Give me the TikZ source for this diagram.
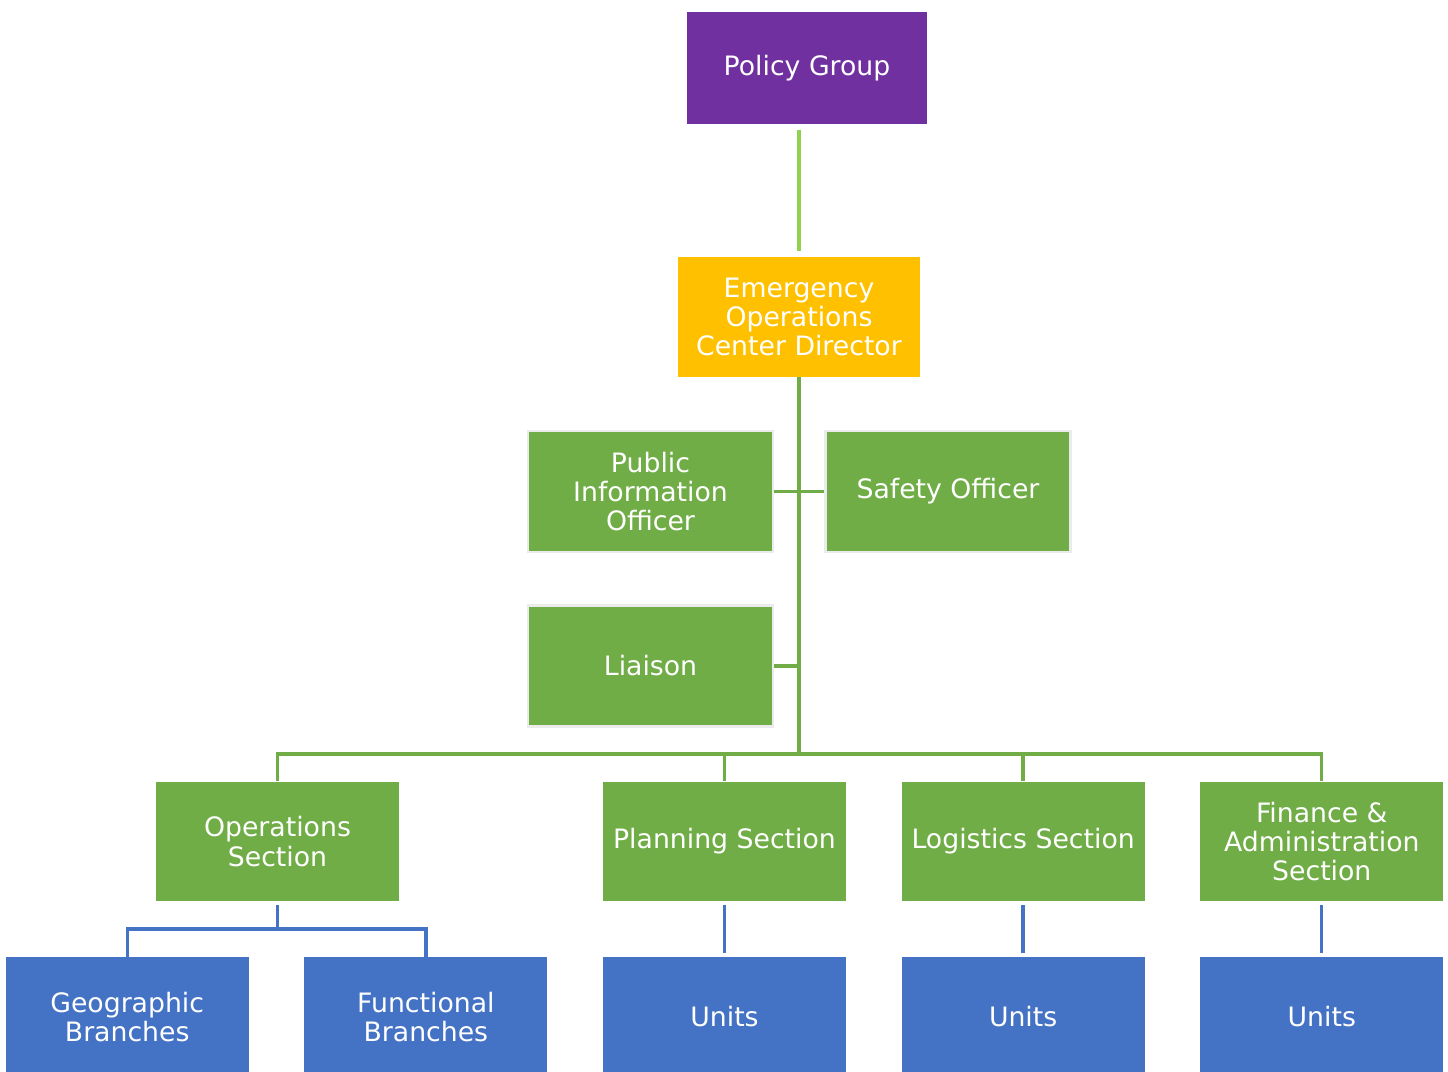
\documentclass[tikz,border=0pt]{standalone}
\usepackage{fontspec}
\setmainfont{DejaVu Sans}
\usetikzlibrary{positioning}

\definecolor{pgpurple}{HTML}{7030A0}
\definecolor{eocgold}{HTML}{FFC000}
\definecolor{secgreen}{HTML}{70AD47}
\definecolor{linkgreen}{HTML}{92D050}
\definecolor{unitblue}{HTML}{4472C4}

\begin{document}
\begin{tikzpicture}[
    x=0.02cm, y=-0.02cm,
    node distance=1.1cm,
    every node/.style={font=\fontsize{15.2}{16.7}\selectfont, text=white, align=center},
    box/.style={minimum width=4.86cm, minimum height=2.4cm, inner sep=1pt},
    greenbox/.style={box, fill=secgreen, draw=black!8, line width=1.2pt},
    bluebox/.style={box, fill=unitblue},
    greenline/.style={draw=secgreen, line width=1.9pt},
    blueline/.style={draw=unitblue, line width=1.9pt}
]
    \clip (0,0) rectangle (1448,1072);
    \fill[white] (0,0) rectangle (1448,1072);

    % top of the chart
    \node (pg) [box, fill=pgpurple, minimum width=4.8cm, minimum height=2.24cm] at (807,68) {Policy Group};
    \node (eoc) [box, fill=eocgold] at (799,317) {Emergency\\ Operations\\ Center Director};

    % command staff
    \node (pio) [greenbox, minimum width=4.9cm, minimum height=2.42cm] at (650.5,491.5) {Public\\ Information\\ Officer};
    \node (safety) [greenbox, minimum width=4.9cm, minimum height=2.42cm] at (948,491.5) {Safety Officer};
    \node (liaison) [greenbox, minimum width=4.9cm, minimum height=2.42cm] at (650.5,666) {Liaison};

    % general staff
    \node (ops) [box, fill=secgreen] at (277.5,841.5) {Operations\\ Section};
    \node (plan) [box, fill=secgreen] at (724.5,841.5) {Planning Section};
    \node (logi) [box, fill=secgreen, right=of plan] {Logistics Section};
    \node (fin) [box, fill=secgreen, right=of logi] {Finance \&\\ Administration\\ Section};

    % lower level
    \node (units1) [bluebox] at (724.5,1017) {Units};
    \node (func) [bluebox, left=of units1] {Functional\\ Branches};
    \node (geo) [bluebox, left=of func] {Geographic\\ Branches};
    \node (units2) [bluebox, right=of units1] {Units};
    \node (units3) [bluebox, right=of units2] {Units};

    \coordinate (hub) at (799,754);
    \coordinate (opsfork) at (277.5,929);

    \draw [draw=linkgreen, line width=1.9pt, shorten <=3pt, shorten >=3pt] (eoc.north |- pg.south) -- (eoc.north);
    \draw [greenline] (eoc.south) -- (hub);
    \draw [greenline] (pio.east) -- (safety.west);
    \draw [greenline] (liaison.east) -- (liaison.east -| hub);
    \draw [greenline] (ops.north) |- (hub) -| (fin.north);
    \draw [greenline] (plan.north) -- (plan.north |- hub);
    \draw [greenline] (logi.north) -- (logi.north |- hub);

    \draw [blueline, shorten <=2pt] (ops.south) -- (opsfork);
    \draw [blueline] (geo.north) |- (opsfork) -| (func.north);
    \draw [blueline, shorten <=2pt, shorten >=2pt] (plan.south) -- (units1.north);
    \draw [blueline, shorten <=2pt, shorten >=2pt] (logi.south) -- (units2.north);
    \draw [blueline, shorten <=2pt, shorten >=2pt] (fin.south) -- (units3.north);
\end{tikzpicture}
\end{document}
